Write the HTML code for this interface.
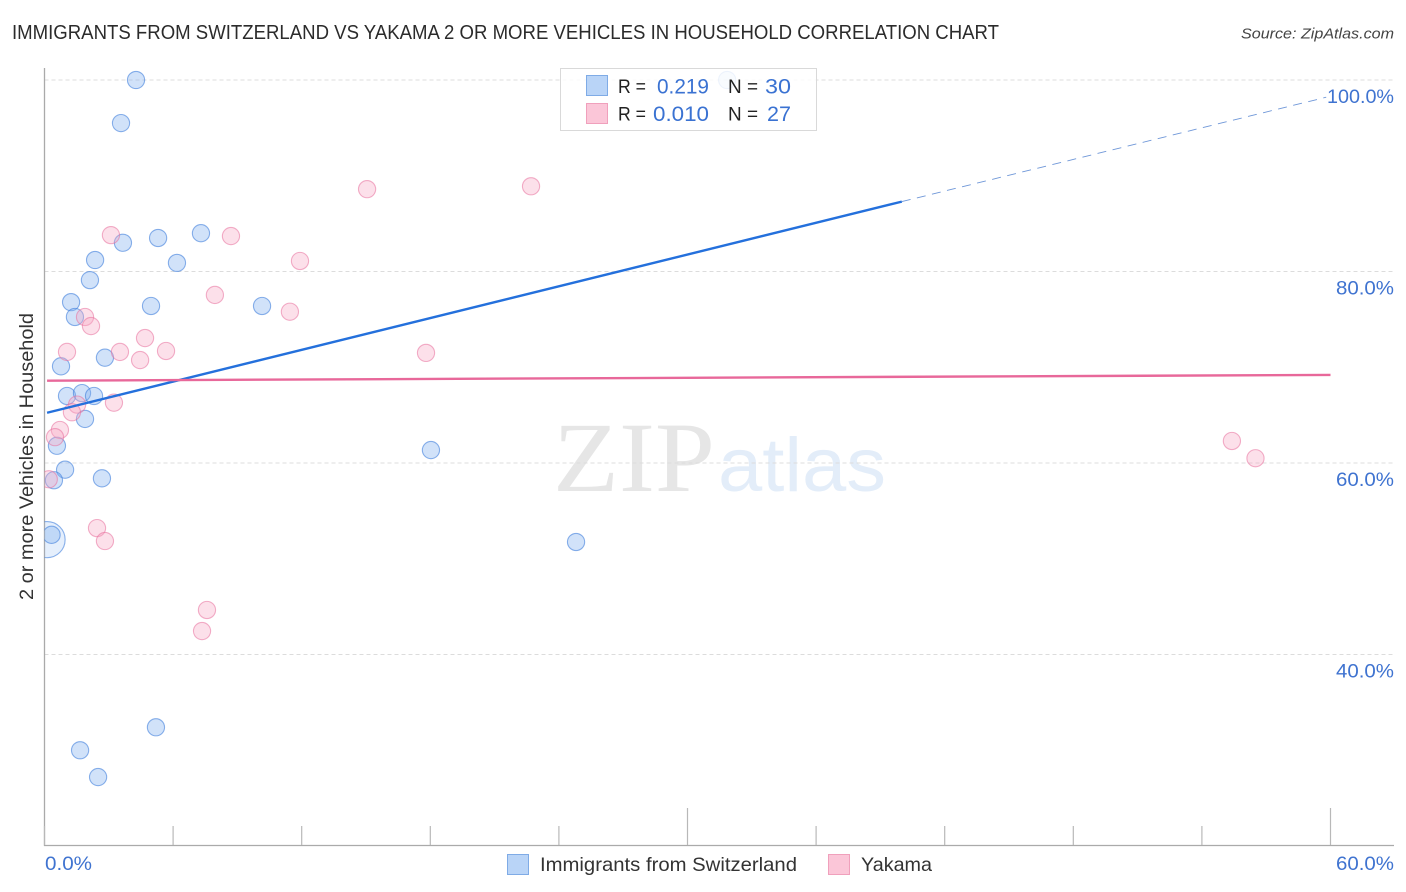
<!DOCTYPE html>
<html lang="en">
<head>
<meta charset="utf-8">
<title>Immigrants from Switzerland vs Yakama correlation chart</title>
<style>
html,body{margin:0;padding:0;background:#fff;}
body{width:1406px;height:892px;overflow:hidden;}
svg{display:block;font-family:"Liberation Sans",sans-serif;}
</style>
</head>
<body>
<svg id="chart" xmlns="http://www.w3.org/2000/svg" width="1406" height="892" viewBox="0 0 1406 892">
  <defs>
    <clipPath id="plot-clip"><rect x="44.5" y="60" width="1350" height="785"/></clipPath>
  </defs>
  <rect width="1406" height="892" fill="#ffffff"/>
  <text x="12" y="39" font-size="20" fill="#2b2b2b" textLength="987" lengthAdjust="spacingAndGlyphs">IMMIGRANTS FROM SWITZERLAND VS YAKAMA 2 OR MORE VEHICLES IN HOUSEHOLD CORRELATION CHART</text>
  <text x="1241" y="38.5" font-size="15" font-style="italic" fill="#444" textLength="153" lengthAdjust="spacingAndGlyphs">Source: ZipAtlas.com</text>

  <g>
    <text x="553" y="491" font-family="'Liberation Serif',serif" font-size="100" fill="#e6e6e6" textLength="162" lengthAdjust="spacingAndGlyphs">ZIP</text>
    <text x="718" y="491" font-size="76" fill="#e3edf9" textLength="168" lengthAdjust="spacingAndGlyphs">atlas</text>
  </g>

  <g id="grid"></g>
  <g id="axes"></g>
  <g id="ylabels"></g>
  <g id="points" clip-path="url(#plot-clip)"></g>
  <g id="trends"></g>

  <text transform="translate(33,456.5) rotate(-90)" font-size="19.5" fill="#333" text-anchor="middle" textLength="287" lengthAdjust="spacingAndGlyphs">2 or more Vehicles in Household</text>
  <text x="45" y="870" font-size="19.5" fill="#3f73d0" textLength="47" lengthAdjust="spacingAndGlyphs">0.0%</text>
  <text x="1336" y="870" font-size="19.5" fill="#3f73d0" textLength="58" lengthAdjust="spacingAndGlyphs">60.0%</text>

  <g>
    <rect x="560.5" y="68.5" width="256" height="62" fill="#ffffff" fill-opacity="0.85" stroke="#d9d9d9"/>
    <rect x="586.5" y="75.5" width="21" height="20" fill="#b9d4f7" stroke="#7fabe6"/>
    <rect x="586.5" y="103.5" width="21" height="20" fill="#fbc6d8" stroke="#f0a0bc"/>
    <g font-size="19.5" fill="#222">
      <text x="618" y="93" textLength="28" lengthAdjust="spacingAndGlyphs">R =</text>
      <text x="728" y="93" textLength="30" lengthAdjust="spacingAndGlyphs">N =</text>
      <text x="618" y="120.5" textLength="28" lengthAdjust="spacingAndGlyphs">R =</text>
      <text x="728" y="120.5" textLength="30" lengthAdjust="spacingAndGlyphs">N =</text>
    </g>
    <g font-size="21.5" fill="#3a72d2">
      <text x="657" y="93.5" textLength="52" lengthAdjust="spacingAndGlyphs">0.219</text>
      <text x="765" y="93.5" textLength="26" lengthAdjust="spacingAndGlyphs">30</text>
      <text x="653" y="121" textLength="56" lengthAdjust="spacingAndGlyphs">0.010</text>
      <text x="767" y="121" textLength="24" lengthAdjust="spacingAndGlyphs">27</text>
    </g>
  </g>

  <g>
    <rect x="507.5" y="854.5" width="21" height="20" fill="#b9d4f7" stroke="#7fabe6"/>
    <text x="540" y="871" font-size="19.5" fill="#333" textLength="257" lengthAdjust="spacingAndGlyphs">Immigrants from Switzerland</text>
    <rect x="828.5" y="854.5" width="21" height="20" fill="#fbc6d8" stroke="#f0a0bc"/>
    <text x="861" y="871" font-size="19.5" fill="#333" textLength="71" lengthAdjust="spacingAndGlyphs">Yakama</text>
  </g>
</svg>
<script>
const yTicks = [100, 80, 60, 40];
const yTickLabels = ['100.0%', '80.0%', '60.0%', '40.0%'];
const xTicks = [0, 6, 12, 18, 24, 30, 36, 42, 48, 54, 60];
const xMajorTicks = [30, 60];

const swissX = [4.27, 31.85, 3.57, 5.3, 7.3, 3.66, 2.36, 6.18, 2.12, 1.24, 4.97, 10.15, 1.42, 2.82, 0.77, 1.05, 1.75, 2.31, 1.89, 18.03, 0.58, 0.96, 0.44, 2.68, 0.12, 0.33, 24.8, 5.2, 1.66, 2.5];
const swissY = [100, 100, 95.5, 83.5, 84.0, 83.0, 81.2, 80.9, 79.1, 76.8, 76.4, 76.4, 75.25, 71.0, 70.1, 67.0, 67.3, 67.0, 64.6, 61.35, 61.8, 59.3, 58.2, 58.4, 52.0, 52.5, 51.75, 32.4, 30.0, 27.2];
const swissSize = [1, 1, 1, 1, 1, 1, 1, 1, 1, 1, 1, 1, 1, 1, 1, 1, 1, 1, 1, 1, 1, 1, 1, 1, 2.1, 1, 1, 1, 1, 1];

const yakamaX = [15.05, 22.7, 3.1, 8.7, 11.92, 7.95, 11.45, 1.89, 2.17, 4.69, 1.05, 3.52, 4.46, 5.67, 17.8, 3.24, 1.52, 1.28, 0.72, 0.49, 0.2, 2.45, 2.82, 7.58, 7.35, 55.4, 56.5];
const yakamaY = [88.6, 88.9, 83.8, 83.7, 81.1, 77.55, 75.8, 75.25, 74.3, 73.05, 71.6, 71.6, 70.75, 71.7, 71.5, 66.3, 66.1, 65.3, 63.45, 62.7, 58.3, 53.2, 51.85, 44.65, 42.45, 62.3, 60.5];

const swissTrendX = [0.12, 40.0];
const swissTrendY = [65.25, 87.3];
const swissDashX = [40.0, 59.8];
const swissDashY = [87.3, 98.2];
const yakamaTrendX = [0.12, 60];
const yakamaTrendY = [68.6, 69.2];

const NS = 'http://www.w3.org/2000/svg';
function sx(v) { return 44.5 + v * (1330.5 - 44.5) / 60; }
function sy(v) { return 80 + (100 - v) * (654.5 - 80) / 60; }
function make(tag, attrs, parent) {
  const el = document.createElementNS(NS, tag);
  for (const k in attrs) el.setAttribute(k, attrs[k]);
  parent.appendChild(el);
  return el;
}

const grid = document.getElementById('grid');
const axes = document.getElementById('axes');
const ylabels = document.getElementById('ylabels');
const pointsG = document.getElementById('points');
const trends = document.getElementById('trends');

yTicks.forEach(function (t, i) {
  const line = make('line', { x1: 44.5, x2: 1394, y1: sy(t), y2: sy(t), stroke: '#dcdcdc', 'stroke-width': 1, 'stroke-dasharray': '4 3' }, grid);
  
  
  const label = make('text', { x: 1394, y: sy(t) + 23, 'font-size': 19.5, fill: '#3f73d0', 'text-anchor': 'end', textLength: yTickLabels[i].length > 5 ? 67 : 58, lengthAdjust: 'spacingAndGlyphs' }, ylabels);
  label.textContent = yTickLabels[i];
  
  
});

const yAxisLine = make('line', { x1: 44.5, x2: 44.5, y1: 68, y2: 846, stroke: '#aaaaaa', 'stroke-width': 1.3 }, axes);


const xAxisLine = make('line', { x1: 44, x2: 1394, y1: 845.5, y2: 845.5, stroke: '#aaaaaa', 'stroke-width': 1.3 }, axes);


xTicks.forEach(function (t) {
  const top = xMajorTicks.indexOf(t) >= 0 ? 808 : 826;
  const tick = make('line', { x1: sx(t), x2: sx(t), y1: top, y2: 845, stroke: '#b8b8b8', 'stroke-width': 1.2 }, axes);
  
  
});

swissX.forEach(function (x, i) {
  const dot = make('circle', { cx: sx(x), cy: sy(swissY[i]), r: 8.6 * swissSize[i], fill: '#7fb0ee', 'fill-opacity': swissSize[i] > 1 ? 0.2 : 0.36, stroke: '#3f7fdc', 'stroke-opacity': 0.6, 'stroke-width': 1.1 }, pointsG);
  
  
});
yakamaX.forEach(function (x, i) {
  const dot = make('circle', { cx: sx(x), cy: sy(yakamaY[i]), r: 8.6, fill: '#f7a8c4', 'fill-opacity': 0.36, stroke: '#e8709c', 'stroke-opacity': 0.55, 'stroke-width': 1.1 }, pointsG);
  
  
});

const swissLine = make('line', { x1: sx(swissTrendX[0]), y1: sy(swissTrendY[0]), x2: sx(swissTrendX[1]), y2: sy(swissTrendY[1]), stroke: '#2470dc', 'stroke-width': 2.4 }, trends);


const swissDash = make('line', { x1: sx(swissDashX[0]), y1: sy(swissDashY[0]), x2: sx(swissDashX[1]), y2: sy(swissDashY[1]), stroke: '#6f97d8', 'stroke-width': 0.9, 'stroke-dasharray': '9 6.5' }, trends);


const yakamaLine = make('line', { x1: sx(yakamaTrendX[0]), y1: sy(yakamaTrendY[0]), x2: sx(yakamaTrendX[1]), y2: sy(yakamaTrendY[1]), stroke: '#e8689a', 'stroke-width': 2.4 }, trends);


</script>
</body>
</html>
